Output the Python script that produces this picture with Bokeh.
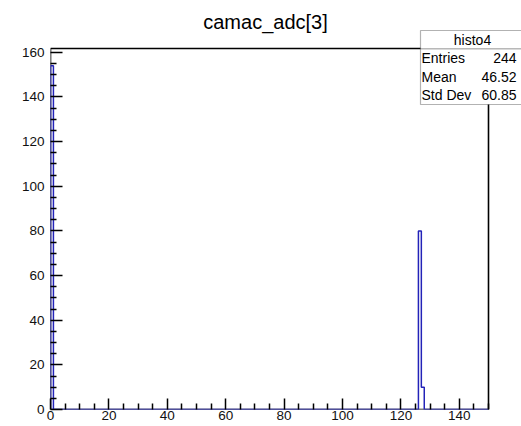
from bokeh.plotting import figure
from bokeh.models import Range1d, FixedTicker, Label, BoxAnnotation
from bokeh.embed import file_html
from bokeh.resources import INLINE

# ---- data ----
title_text = "camac_adc[3]"
hist_name = "histo4"
x_min, x_max, n_bins = 0, 150, 150
filled_bin_lows = [0, 126, 127]
filled_counts = [154, 80, 10]
stat_names = ["Entries", "Mean", "Std Dev"]
stat_values = ["244", "46.52", "60.85"]
x_ticks = [0, 20, 40, 60, 80, 100, 120, 140]
y_ticks = [0, 20, 40, 60, 80, 100, 120, 140, 160]
minor_step = 5

# ---- build step outline from the data ----
bw = (x_max - x_min) / n_bins
xs, ys = [x_min], [0]
prev_hi = x_min
for lo, c in zip(filled_bin_lows, filled_counts):
    if lo != prev_hi:
        xs += [prev_hi, lo]
        ys += [0, 0]
    xs += [lo, lo + bw]
    ys += [c, c]
    prev_hi = lo + bw
xs += [prev_hi, x_max]
ys += [0, 0]
y_max = 1.05 * max(filled_counts)

# ---- layout (pixels) ----
W, H = 521, 426
PL, PR, PT, PB = 50, 488, 48, 409          # ROOT frame box in canvas pixels
BB = H - PB
x_end = x_min + (x_max - x_min) * (W - PL) / (PR - PL)
y_end = y_max * PB / (PB - PT)

p = figure(width=W, height=H, output_backend="svg", toolbar_location=None,
           x_range=Range1d(x_min, x_end), y_range=Range1d(0, y_end),
           min_border_left=PL, min_border_right=0, min_border_top=0, min_border_bottom=BB)
p.background_fill_color = "white"
p.border_fill_color = "white"
p.outline_line_color = None
p.xgrid.visible = False
p.ygrid.visible = False

# frame box of the histogram
p.quad(left=[x_min], right=[x_max], bottom=[0], top=[y_max],
       fill_color=None, line_color="black", line_width=1.6)

p.line(xs, ys, line_color="#2323b8", line_width=1.5)

x_minor = [v for v in range(x_min, x_max + 1, minor_step) if v not in x_ticks]
y_minor = [v for v in range(0, int(y_max) + 1, minor_step) if v not in y_ticks]
for ax, maj, tk, mn in ((p.xaxis[0], 11, x_ticks, x_minor), (p.yaxis[0], 12, y_ticks, y_minor)):
    ax.ticker = FixedTicker(ticks=tk, minor_ticks=mn)
    ax.axis_line_color = None
    ax.major_tick_in = maj
    ax.major_tick_out = 0
    ax.minor_tick_in = 6
    ax.minor_tick_out = 0
    ax.major_tick_line_color = "black"
    ax.minor_tick_line_color = "black"
    ax.major_tick_line_width = 1.5
    ax.minor_tick_line_width = 1.5
    ax.major_label_text_font = "Liberation Sans"
    ax.major_label_text_font_size = "13.5px"
    ax.major_label_text_color = "#111111"
p.xaxis.major_label_standoff = 1
p.yaxis.major_label_standoff = 6

FH = PB  # frame height in px (frame spans canvas top to PB)

# title
p.add_layout(Label(x=215, y=FH - 21.5, x_units="screen", y_units="screen", text=title_text,
                   text_align="center", text_baseline="middle", text_font="Liberation Sans",
                   text_font_size="20px", text_color="black"))

# stats box (frame-relative screen coordinates)
box_l, box_r = 370, 474
box_top, box_head, box_bot = FH - 30, FH - 48.5, FH - 104
p.add_layout(BoxAnnotation(left=box_l, right=box_r, top=box_top, bottom=box_head,
                           left_units="screen", right_units="screen", top_units="screen", bottom_units="screen",
                           fill_color="white", fill_alpha=1.0, line_color="black", line_width=1.2, level="overlay"))
p.add_layout(BoxAnnotation(left=box_l, right=box_r, top=box_head, bottom=box_bot,
                           left_units="screen", right_units="screen", top_units="screen", bottom_units="screen",
                           fill_color="white", fill_alpha=1.0, line_color="black", line_width=1.2, level="overlay"))
p.add_layout(Label(x=422, y=(box_top + box_head) / 2, x_units="screen", y_units="screen", text=hist_name,
                   text_align="center", text_baseline="middle", text_font="Liberation Sans",
                   text_font_size="14px", text_color="black", level="overlay"))
row_h = (box_head - box_bot) / len(stat_names)
for i, (nm, vv) in enumerate(zip(stat_names, stat_values)):
    yy = box_head - row_h * (i + 0.5)
    p.add_layout(Label(x=371, y=yy, x_units="screen", y_units="screen", text=nm,
                       text_align="left", text_baseline="middle", text_font="Liberation Sans",
                       text_font_size="14px", text_color="black", level="overlay"))
    p.add_layout(Label(x=466, y=yy, x_units="screen", y_units="screen", text=vv,
                       text_align="right", text_baseline="middle", text_font="Liberation Sans",
                       text_font_size="14px", text_color="black", level="overlay"))

open("out.html", "w").write(file_html(p, INLINE))
